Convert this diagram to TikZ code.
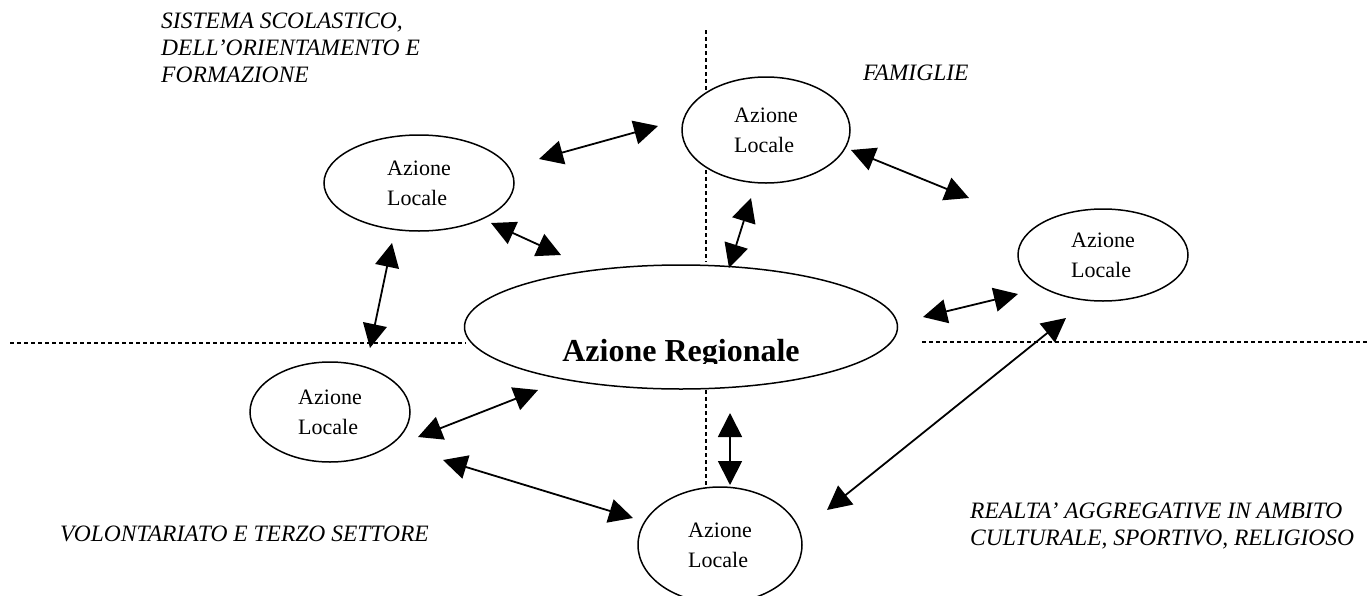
\documentclass[tikz,border=0pt]{standalone}
\usepackage{fontspec}
\setmainfont{Liberation Serif}
\usetikzlibrary{arrows.meta,shapes.geometric}
\begin{document}
\begin{tikzpicture}[x=1pt,y=-1pt,
  loc/.style={ellipse,draw,line width=1.5pt,fill=white,inner sep=0pt,align=left,font=\fontsize{22}{30}\selectfont},
  lab/.style={anchor=base west,inner sep=0pt,font=\fontsize{23.5}{27}\selectfont\itshape},
  dots/.style={line width=1.5pt,dash pattern=on 4pt off 3pt},
  link/.style={line width=1.8pt,{Triangle[length=24pt,width=24pt]}-{Triangle[length=24pt,width=24pt]}}
]
\useasboundingbox (0,0) rectangle (1369,595);
% dotted dividers
\coordinate (hl1) at (10,343);  \coordinate (hl2) at (466,343);
\coordinate (hr1) at (922,342); \coordinate (hr2) at (1369,342);
\coordinate (vt1) at (706,30);  \coordinate (vt2) at (706,262);
\coordinate (vb1) at (706,390); \coordinate (vb2) at (706,488);
\draw[dots] (hl1) -- (hl2);
\draw[dots] (hr1) -- (hr2);
\draw[dots] (vt1) -- (vt2);
\draw[dots] (vb1) -- (vb2);
% central ellipse
\node[ellipse,draw,line width=1.5pt,minimum width=433pt,minimum height=124pt,inner sep=0pt] (reg) at (681,327) {};
\begin{scope}
\clip (440,250) rectangle (920,363);
\node[anchor=base,inner sep=0pt,font=\fontsize{32}{36}\selectfont\bfseries] (regtxt) at (681,361) {Azione Regionale};
\end{scope}
% local ellipses
\node[loc,minimum width=190pt,minimum height=96pt] (l1) at (419,183) {Azione\\Locale};
\node[loc,minimum width=168pt,minimum height=106pt] (l2) at (766,130) {Azione\\Locale};
\node[loc,minimum width=170pt,minimum height=92pt] (l3) at (1103,255) {Azione\\Locale};
\node[loc,minimum width=160pt,minimum height=100pt] (l4) at (330,412) {Azione\\Locale};
\node[loc,minimum width=164pt,minimum height=116pt] (l5) at (720,545) {Azione\\Locale};
% labels
\node[lab] (s1) at (161,28) {SISTEMA SCOLASTICO,};
\node[lab] (s2) at (161,55) {DELL’ORIENTAMENTO E};
\node[lab] (s3) at (161,82) {FORMAZIONE};
\node[lab] (fam) at (863,80) {FAMIGLIE};
\node[lab] (vol) at (60,541) {VOLONTARIATO E TERZO SETTORE};
\node[lab] (r1) at (970,518) {REALTA’ AGGREGATIVE IN AMBITO};
\node[lab] (r2) at (970,545) {CULTURALE, SPORTIVO, RELIGIOSO};
% arrows
\coordinate (a1s) at (539,159);  \coordinate (a1e) at (658,126);
\coordinate (a2s) at (851,150);  \coordinate (a2e) at (969,198);
\coordinate (a3s) at (491,223);  \coordinate (a3e) at (561,255);
\coordinate (a4s) at (751,198);  \coordinate (a4e) at (729,268);
\coordinate (a5s) at (923,317);  \coordinate (a5e) at (1018,294);
\coordinate (a6s) at (392,243);  \coordinate (a6e) at (370,348);
\coordinate (a7s) at (418,437);  \coordinate (a7e) at (538,390);
\coordinate (a8s) at (443,460);  \coordinate (a8e) at (633,518);
\coordinate (a9s) at (730,413);  \coordinate (a9e) at (730,485);
\coordinate (a10s) at (1066,318); \coordinate (a10e) at (827,510);
\foreach \i in {1,...,10} {\draw[link] (a\i s) -- (a\i e);}
\end{tikzpicture}
\end{document}
